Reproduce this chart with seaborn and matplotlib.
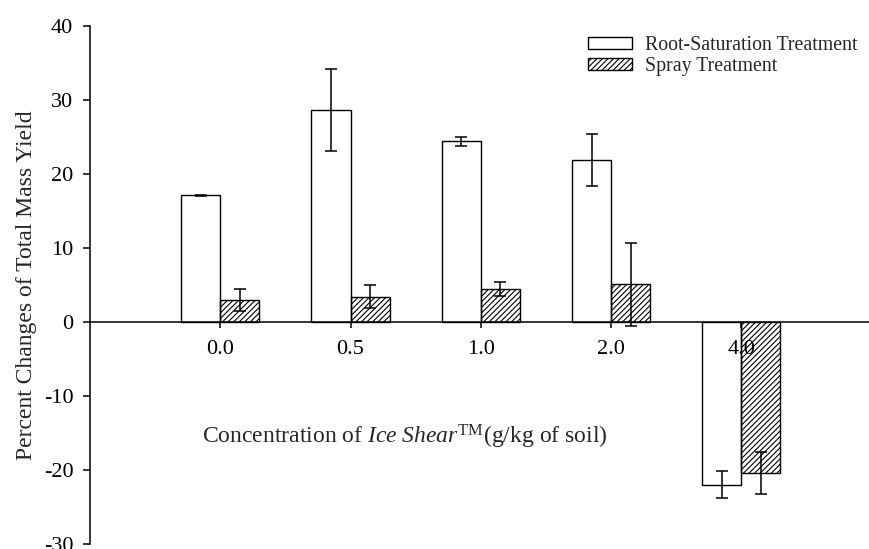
import matplotlib
matplotlib.use("Agg")
import matplotlib.pyplot as plt
from matplotlib.patches import Patch
import seaborn as sns
import pandas as pd
import numpy as np

concentrations = ["0.0", "0.5", "1.0", "2.0", "4.0"]
treatments = ["Root-Saturation Treatment", "Spray Treatment"]
root_values = [17.1, 28.7, 24.4, 21.9, -22.0]
root_errors = [0.05, 5.55, 0.55, 3.5, 1.85]
spray_values = [3.0, 3.4, 4.45, 5.1, -20.4]
spray_errors = [1.5, 1.55, 0.95, 5.6, 2.8]
y_ticks = [-30, -20, -10, 0, 10, 20, 30, 40]

sns.set_style("ticks")
plt.rcParams["font.family"] = ["Liberation Serif", "DejaVu Serif"]
plt.rcParams["mathtext.fontset"] = "custom"
plt.rcParams["mathtext.rm"] = "Liberation Serif"
plt.rcParams["mathtext.it"] = "Liberation Serif:italic"
plt.rcParams["axes.unicode_minus"] = False
plt.rcParams["hatch.color"] = "black"
plt.rcParams["hatch.linewidth"] = 0.8

df = pd.DataFrame({
    "conc": concentrations * 2,
    "value": root_values + spray_values,
    "treatment": [treatments[0]] * 5 + [treatments[1]] * 5,
})

fig = plt.figure(figsize=(8.69, 5.49), dpi=100)
ax = fig.add_axes([90 / 869, 5 / 549, 1 - 90 / 869, (544 - 26) / 549])

sns.barplot(data=df, x="conc", y="value", hue="treatment", order=concentrations,
            hue_order=treatments, palette=["white", "white"], edgecolor="black",
            linewidth=1.0, width=0.6, gap=0, errorbar=None, legend=False,
            saturation=1, ax=ax)

for i, (cont, vals, errs) in enumerate(zip(ax.containers, [root_values, spray_values],
                                           [root_errors, spray_errors])):
    for bar, v, e in zip(cont, vals, errs):
        bar.set_facecolor("none")
        if i == 1:
            bar.set_hatch("//////")
        x = bar.get_x() + bar.get_width() / 2
        ax.errorbar(x, v, yerr=e, color="black", elinewidth=1.1, capsize=4.0,
                    capthick=1.1, zorder=3)

ax.set_xlim(-1.0, 4.98)
ax.set_ylim(-30, 40)
ax.set_yticks(y_ticks)
ax.set_yticklabels([str(t) for t in y_ticks])
ax.set_axisbelow(True)

ax.spines["top"].set_visible(False)
ax.spines["right"].set_visible(False)
ax.spines["bottom"].set_position(("data", 0))
for s in ["left", "bottom"]:
    ax.spines[s].set_linewidth(1.1)
    ax.spines[s].set_color("black")

ax.tick_params(axis="y", direction="out", length=5, width=1.1, pad=7, labelsize=16, colors="black")
ax.tick_params(axis="x", direction="out", length=4, width=1.1, pad=9, labelsize=16, colors="black")
ax.set_xlabel("")
ax.set_ylabel("Percent Changes of Total Mass Yield", fontsize=17, labelpad=5)

fig.text(405 / 869, 1 - 437 / 549,
         r"Concentration of $\mathit{Ice\ Shear}^{\mathrm{TM}}$(g/kg of soil)",
         ha="center", va="center", fontsize=17)

handles = [Patch(facecolor="white", edgecolor="black", linewidth=1.0),
           Patch(facecolor="white", edgecolor="black", linewidth=1.0, hatch="//////")]
fig.legend(handles, treatments, loc="upper left",
           bbox_to_anchor=(588 / 869, 1 - 36 / 549), frameon=False, fontsize=14.3,
           handlelength=2.2, handleheight=0.55, handletextpad=0.65,
           labelspacing=0.12, borderpad=0, borderaxespad=0)

fig.savefig("out.png", dpi=100)
